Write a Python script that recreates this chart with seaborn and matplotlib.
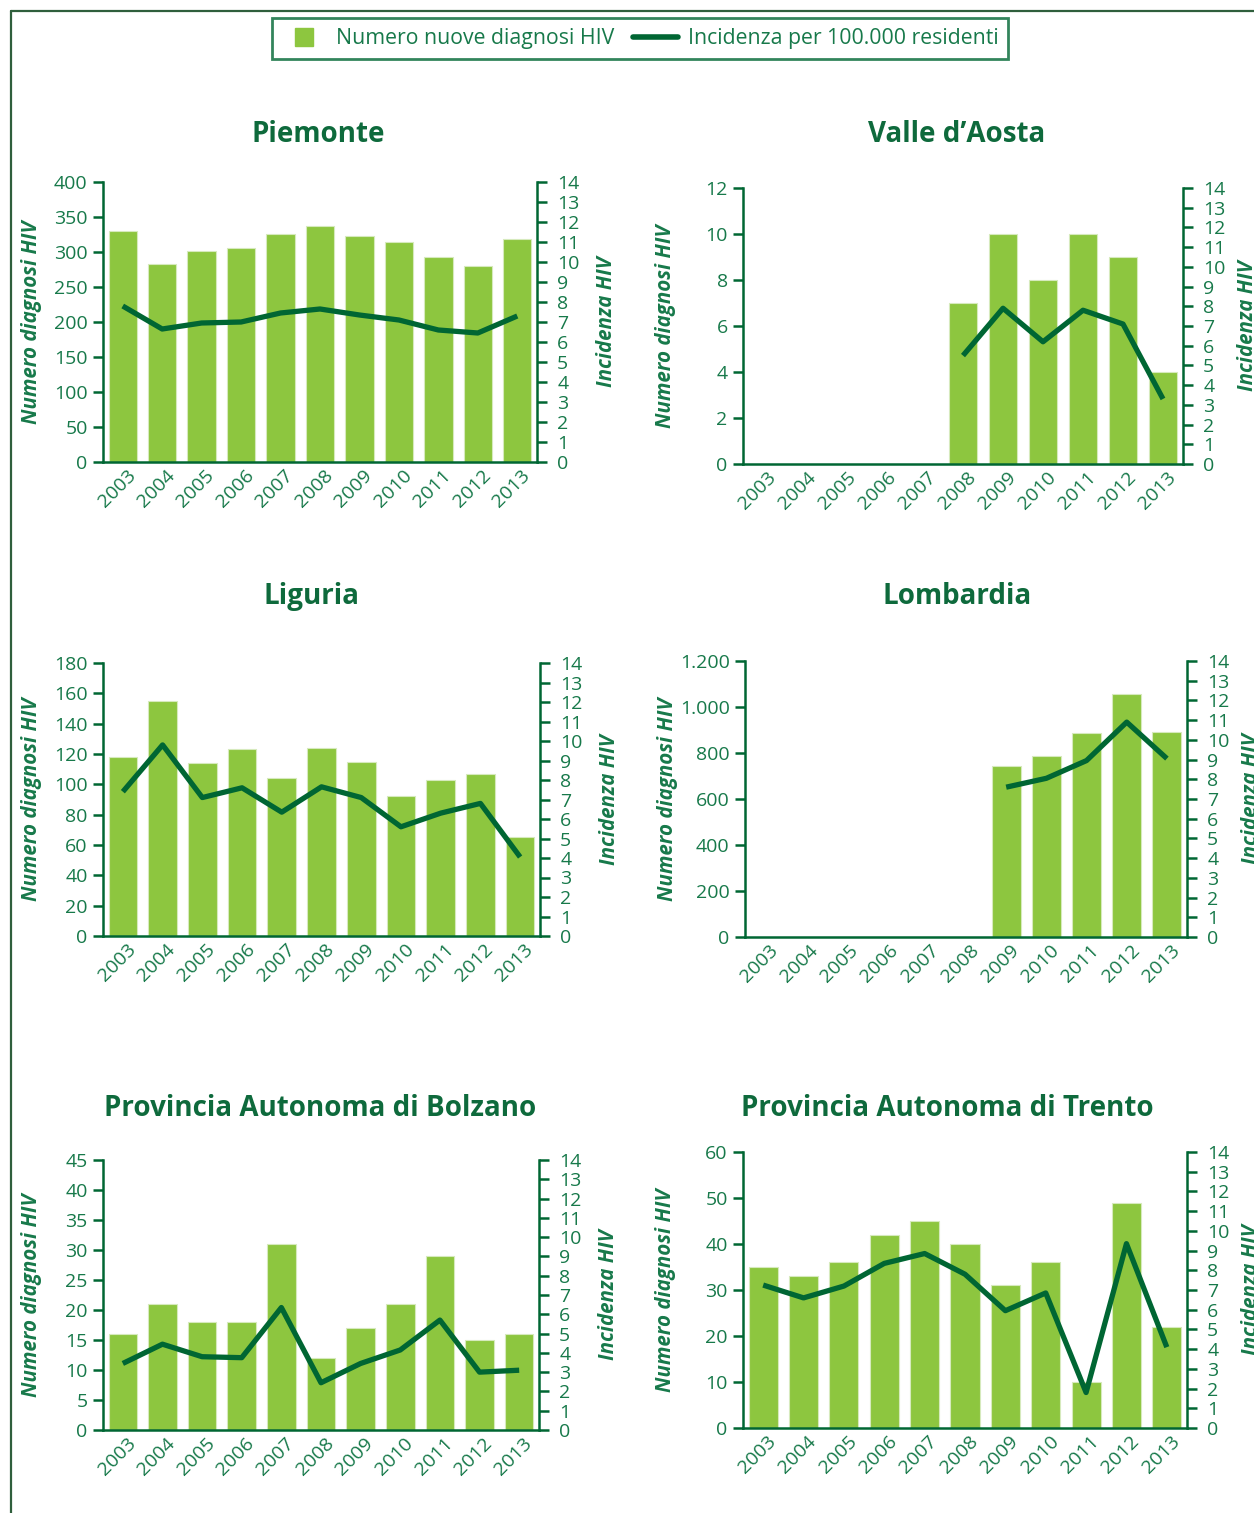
import numpy as np
import pandas as pd
import matplotlib
matplotlib.use("Agg")
import matplotlib.pyplot as plt
import matplotlib.transforms as mtransforms
from matplotlib.lines import Line2D
from matplotlib.ticker import FuncFormatter, FixedLocator
import seaborn as sns

# dati
years = [str(y) for y in range(2003, 2014)]
nan = np.nan

piemonte_n = [330, 283, 302, 306, 326, 337, 323, 314, 293, 280, 318]
piemonte_inc = [7.8, 6.65, 6.95, 7.0, 7.45, 7.65, 7.35, 7.1, 6.6, 6.45, 7.3]

vda_n = [nan, nan, nan, nan, nan, 7, 10, 8, 10, 9, 4]
vda_inc = [nan, nan, nan, nan, nan, 5.5, 7.9, 6.2, 7.8, 7.1, 3.3]

liguria_n = [118, 155, 114, 123, 104, 124, 115, 92, 103, 107, 65]
liguria_inc = [7.4, 9.8, 7.1, 7.6, 6.35, 7.65, 7.1, 5.6, 6.3, 6.8, 4.05]

lombardia_n = [nan, nan, nan, nan, nan, nan, 742, 788, 887, 1058, 891]
lombardia_inc = [nan, nan, nan, nan, nan, nan, 7.6, 8.05, 8.95, 10.9, 9.05]

bolzano_n = [16, 21, 18, 18, 31, 12, 17, 21, 29, 15, 16]
bolzano_inc = [3.45, 4.45, 3.8, 3.75, 6.35, 2.45, 3.45, 4.15, 5.7, 3.0, 3.1]

trento_n = [35, 33, 36, 42, 45, 40, 31, 36, 10, 49, 22]
trento_inc = [7.25, 6.6, 7.2, 8.35, 8.85, 7.8, 5.95, 6.85, 1.8, 9.35, 4.1]

titles = ["Piemonte", "Valle d\u2019Aosta", "Liguria", "Lombardia",
          "Provincia Autonoma di Bolzano", "Provincia Autonoma di Trento"]
counts = [piemonte_n, vda_n, liguria_n, lombardia_n, bolzano_n, trento_n]
incid = [piemonte_inc, vda_inc, liguria_inc, lombardia_inc, bolzano_inc, trento_inc]
ymax = [400, 12, 180, 1200, 45, 60]
ystep = [50, 2, 20, 200, 5, 10]

# posizioni (pixel) di assi e titoli
boxes = [(103, 182, 537, 462), (743, 188, 1183, 464),
         (103, 663, 540, 936), (745, 661, 1187, 937),
         (103, 1160, 539, 1430), (743, 1152, 1187, 1428)]
title_pos = [(318, 135), (957, 135), (312, 596), (957, 596), (320, 1108), (947, 1108)]

BAR = "#8dc63f"
DARK = "#006633"
TXT = "#17794a"
W, H = 1254, 1513

sns.set_style("white")
plt.rcParams["font.family"] = ["Open Sans", "DejaVu Sans"]

fig = plt.figure(figsize=(W / 100, H / 100), dpi=100)

for i in range(6):
    x0, y0, x1, y1 = boxes[i]
    aw, ah = x1 - x0, y1 - y0
    ax = fig.add_axes([x0 / W, 1 - y1 / H, aw / W, ah / H])
    df = pd.DataFrame({"anno": years, "n": counts[i], "inc": incid[i]})

    sns.barplot(data=df, x="anno", y="n", order=years, ax=ax, color=BAR,
                width=0.72, edgecolor="#d6eabd", linewidth=0.8, saturation=1)
    ax2 = ax.twinx()
    sns.pointplot(data=df, x="anno", y="inc", order=years, ax=ax2, color=DARK,
                  markers="", errorbar=None, linewidth=3.8)
    for ln in ax2.lines:
        ln.set_solid_capstyle("butt")
        ln.set_solid_joinstyle("round")

    ax.set_xlim(-0.5, 10.5)
    ax2.set_xlim(-0.5, 10.5)
    ax.set_ylim(0, ymax[i])
    ax2.set_ylim(0, 14)

    ax.set_yticks(np.arange(0, ymax[i] + 1, ystep[i]))
    ax.yaxis.set_major_formatter(FuncFormatter(lambda v, p: f"{int(v):,}".replace(",", ".")))
    ax2.set_yticks(np.arange(0, 15, 1))

    ax.set_xticks(range(11))
    ax.set_xticklabels(years, rotation=45, ha="right", va="center", rotation_mode="anchor")
    ax.xaxis.set_minor_locator(FixedLocator(np.arange(-0.5, 11, 1)))
    ax.tick_params(axis="x", which="major", length=0, pad=8, labelsize=14, colors=TXT)
    ax.tick_params(axis="x", which="minor", length=7.5, width=1.8, color=DARK, direction="out")
    ax.tick_params(axis="y", length=7.5, width=1.8, color=DARK, labelcolor=TXT, labelsize=14, pad=3.5)
    ax2.tick_params(axis="y", length=7.5, width=1.8, color=DARK, labelcolor=TXT, labelsize=14, pad=7)
    offset = mtransforms.ScaledTranslation(10 / 100, 0, fig.dpi_scale_trans)
    for lab in ax.get_xticklabels():
        lab.set_transform(lab.get_transform() + offset)

    for a in (ax, ax2):
        for s in a.spines.values():
            s.set_visible(False)
    ax.spines["left"].set_visible(True)
    ax.spines["bottom"].set_visible(True)
    ax2.spines["right"].set_visible(True)
    for s in (ax.spines["left"], ax.spines["bottom"], ax2.spines["right"]):
        s.set_color(DARK)
        s.set_linewidth(1.8)

    ax.set_xlabel("")
    ax2.set_xlabel("")
    ax.set_ylabel("Numero diagnosi HIV", color=TXT, fontsize=14.8,
                  fontweight="bold", fontstyle="italic")
    ax2.set_ylabel("Incidenza HIV", color=TXT, fontsize=14.8,
                   fontweight="bold", fontstyle="italic", rotation=90)
    lx = 61 if i % 2 == 0 else 67
    rx = 59 if i % 2 == 0 else 54
    ax.yaxis.set_label_coords(-lx / aw, 0.5)
    ax2.yaxis.set_label_coords(1 + rx / aw, 0.5)

    tx, ty = title_pos[i]
    ax.set_title(titles[i], x=(tx - x0) / aw, y=1 + (y0 - ty) / ah, va="center",
                 pad=0, fontsize=20, fontweight="bold", color="#0e6a3c")

# legenda
handles = [Line2D([], [], marker="s", markersize=13, color=BAR, linestyle="None"),
           Line2D([], [], color=DARK, linewidth=4)]
leg = fig.legend(handles, ["Numero nuove diagnosi HIV", "Incidenza per 100.000 residenti"],
                 loc="center", bbox_to_anchor=(640 / W, 1 - 38.5 / H), ncol=2,
                 fontsize=15.3, frameon=True, fancybox=False, handlelength=2.1,
                 columnspacing=0.9, handletextpad=0.45, borderpad=0.45, borderaxespad=0)
for t in leg.get_texts():
    t.set_color(TXT)
leg.get_frame().set_edgecolor(DARK)
leg.get_frame().set_linewidth(2)

# cornice
fig.add_artist(Line2D([11 / W, 1], [1 - 11 / H, 1 - 11 / H], color="#2f5f3c", linewidth=1.6))
fig.add_artist(Line2D([11 / W, 11 / W], [0, 1 - 11 / H], color="#2f5f3c", linewidth=1.6))

fig.savefig("out.png", dpi=100)
